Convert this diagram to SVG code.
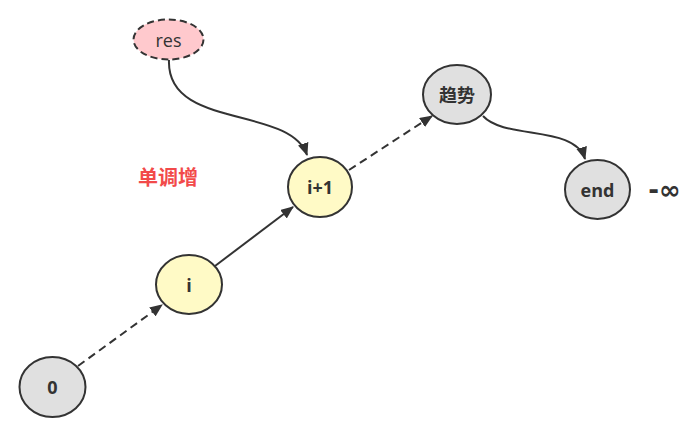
<svg xmlns="http://www.w3.org/2000/svg" width="693" height="431" viewBox="0 0 693 431">
<style>
.n{stroke:#333;stroke-width:2}
.g{fill:#e0e0e0}
.y{fill:#fffac6}
.p{fill:#ffc9cd;stroke-dasharray:7 4}
.t{font-family:"Open Sans","Noto Sans CJK SC",sans-serif;font-size:18px;font-weight:bold;fill:#333;text-anchor:middle;dominant-baseline:central}
.c{fill:none;stroke:#333;stroke-width:2}
.d{stroke-dasharray:8 5}
</style>
<defs>
<marker id="ah" viewBox="0 0 12 10" refX="11" refY="5" markerWidth="13" markerHeight="11" markerUnits="userSpaceOnUse" orient="auto">
<path d="M0,0 L12,5 L0,10 Z" fill="#333"/>
</marker>
</defs>
<rect width="693" height="431" fill="#fff"/>
<g id="connectors">
<path class="c d" d="M78,366 L162,305" marker-end="url(#ah)"/>
<path class="c" d="M215,266 L293,207" marker-end="url(#ah)"/>
<path class="c d" d="M349,170 L432,116" marker-end="url(#ah)"/>
<path class="c" d="M169,60 C166,130 290,105 307,155" marker-end="url(#ah)"/>
<path class="c" d="M483,116 C505,140 575,125 585,159" marker-end="url(#ah)"/>
</g>
<g id="res"><ellipse class="n p" cx="168.5" cy="39.5" rx="35" ry="20"/><text class="t" x="168.5" y="40" style="font-weight:normal">res</text></g>
<g id="n0"><ellipse class="n g" cx="52.5" cy="387" rx="33" ry="30"/><text class="t" x="52.5" y="387">0</text></g>
<g id="ni"><ellipse class="n y" cx="189" cy="284.5" rx="33" ry="29.5"/><text class="t" x="189" y="284.5">i</text></g>
<g id="ni1"><ellipse class="n y" cx="320" cy="187" rx="32" ry="30"/><text class="t" x="320" y="187">i+1</text></g>
<g id="trend"><ellipse class="n g" cx="457" cy="94.5" rx="34" ry="29.5"/><text class="t" x="457" y="94.5">趋势</text></g>
<g id="end"><ellipse class="n g" cx="597.5" cy="189.5" rx="32.5" ry="29.5"/><text class="t" x="597.5" y="189.5">end</text></g>
<text class="t" x="664.5" y="190" style="font-family:'DejaVu Sans',sans-serif;font-size:26px">-∞</text>
<text class="t" x="168" y="177" style="fill:#f24a4a;font-size:20px">单调增</text>
</svg>
